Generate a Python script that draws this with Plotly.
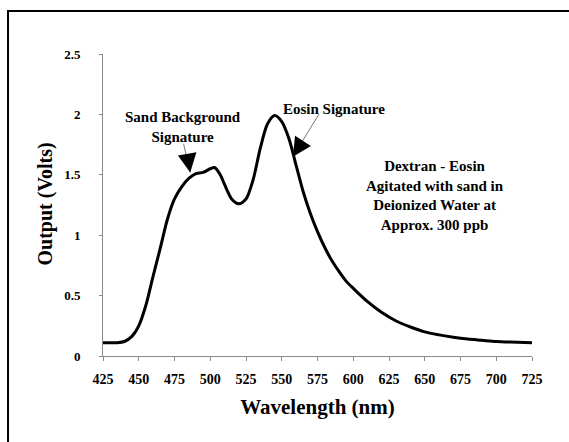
import plotly.graph_objects as go

wavelength = [425, 430, 435, 440, 445, 450, 455, 460, 465, 470, 475, 480, 485, 490, 495,
              500, 503, 507, 510, 515, 520, 525, 530, 535, 540, 545, 550, 555, 560, 565,
              570, 575, 580, 585, 590, 595, 600, 610, 620, 630, 640, 650, 660, 670, 680,
              690, 700, 710, 725]
output_volts = [0.11, 0.11, 0.11, 0.12, 0.16, 0.25, 0.42, 0.66, 0.89, 1.13, 1.30, 1.40, 1.47, 1.51, 1.52,
                1.55, 1.56, 1.50, 1.42, 1.30, 1.26, 1.30, 1.46, 1.72, 1.92, 1.99, 1.94, 1.80, 1.58, 1.36,
                1.18, 1.03, 0.90, 0.79, 0.70, 0.62, 0.56, 0.45, 0.36, 0.29, 0.24, 0.20, 0.175, 0.155, 0.14,
                0.13, 0.12, 0.115, 0.11]
x_ticks = [425, 450, 475, 500, 525, 550, 575, 600, 625, 650, 675, 700, 725]
y_ticks = [0, 0.5, 1, 1.5, 2, 2.5]
y_tick_labels = ["0", "0.5", "1", "1.5", "2", "2.5"]

FONT = "Liberation Serif"

fig = go.Figure()
fig.add_trace(go.Scatter(x=wavelength, y=output_volts, mode="lines",
                         line=dict(color="black", width=3, shape="spline", smoothing=0.8),
                         hoverinfo="skip"))

fig.update_layout(
    width=569, height=442,
    margin=dict(l=103, r=37, t=54, b=86),
    paper_bgcolor="white", plot_bgcolor="white",
    showlegend=False,
    font=dict(family=FONT, color="black"),
    xaxis=dict(range=[425, 725], tickvals=x_ticks, ticktext=[str(v) for v in x_ticks],
               showgrid=False, zeroline=False, showline=True, linecolor="#8a8a8a", linewidth=1,
               ticks="outside", ticklen=4, tickcolor="#8a8a8a", ticklabelstandoff=6,
               tickfont=dict(family=FONT, size=14, color="black", weight="bold"),
               title=dict(text="<b>Wavelength (nm)</b>", font=dict(family=FONT, size=21), standoff=13)),
    yaxis=dict(range=[0, 2.5], tickvals=y_ticks, ticktext=y_tick_labels,
               showgrid=False, zeroline=False, showline=True, linecolor="#8a8a8a", linewidth=1,
               ticks="outside", ticklen=3, tickcolor="#8a8a8a", ticklabelstandoff=16,
               tickfont=dict(family=FONT, size=13, color="black", weight="bold")),
)

# Y axis title
fig.add_annotation(x=-0.1329, y=0.505, xref="paper", yref="paper", showarrow=False,
                   text="<b>Output (Volts)</b>", textangle=-90, xanchor="center", yanchor="middle",
                   font=dict(family=FONT, size=20, color="black"))

ann_font = dict(family=FONT, size=15, color="black")
# Text labels
fig.add_annotation(x=0.186, y=0.758, xref="paper", yref="paper", showarrow=False,
                   xanchor="center", yanchor="middle",
                   text="<b>Sand Background<br>Signature</b>", font=ann_font, align="center")
fig.add_annotation(x=0.538, y=0.818, xref="paper", yref="paper", showarrow=False,
                   xanchor="center", yanchor="middle",
                   text="<b>Eosin Signature</b>", font=ann_font, align="center")
fig.add_annotation(x=0.774, y=0.533, xref="paper", yref="paper", showarrow=False,
                   xanchor="center", yanchor="middle",
                   text="<b>Dextran - Eosin<br>Agitated with sand in<br>Deionized Water at<br>Approx. 300 ppb</b>",
                   font=ann_font, align="center")

# Arrows: gray shaft + black head
fig.add_annotation(x=486, y=1.52, ax=-7, ay=-30, showarrow=True, arrowhead=0,
                   arrowcolor="#777", arrowwidth=1, text="")
fig.add_annotation(x=486, y=1.52, ax=-2, ay=-12, showarrow=True, arrowhead=2,
                   arrowsize=1.5, arrowwidth=2.5, arrowcolor="black", text="")
fig.add_annotation(x=557.8, y=1.65, ax=27, ay=-44, showarrow=True, arrowhead=0,
                   arrowcolor="#777", arrowwidth=1, text="")
fig.add_annotation(x=557.8, y=1.65, ax=7, ay=-11, showarrow=True, arrowhead=2,
                   arrowsize=1.5, arrowwidth=2.5, arrowcolor="black", text="")

# Outer frame
fig.add_shape(type="rect", xref="paper", yref="paper",
              x0=-0.2214, x1=1.1, y0=-0.32, y1=1.142,
              line=dict(color="black", width=2), fillcolor="rgba(0,0,0,0)")

fig.write_html("out.html")
